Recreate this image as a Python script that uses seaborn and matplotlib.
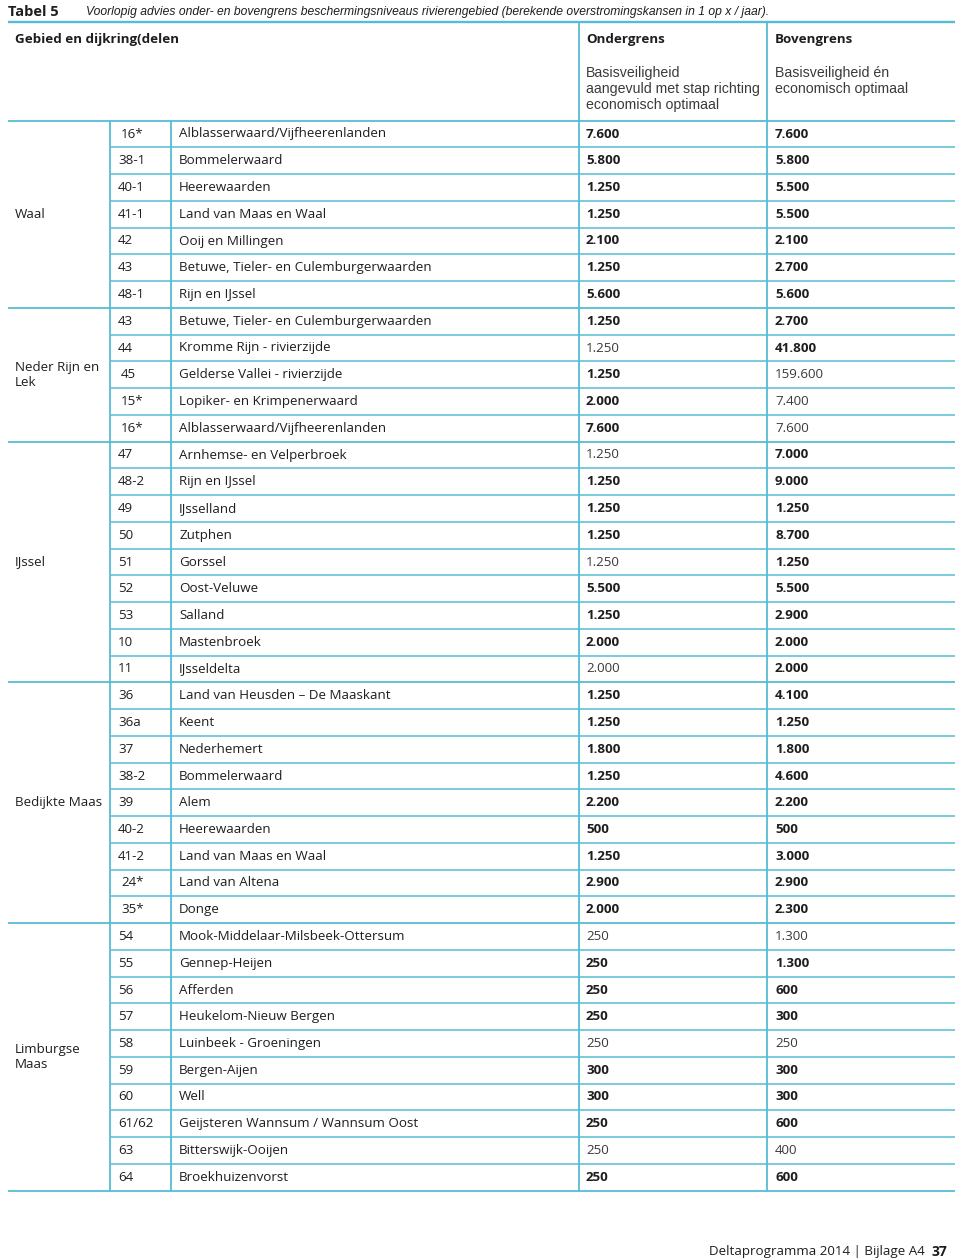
import matplotlib
matplotlib.use("Agg")
import matplotlib.pyplot as plt
import seaborn as sns

# table content
groups = ["Waal", "Neder Rijn en\nLek", "IJssel", "Bedijkte Maas", "Limburgse\nMaas"]
group_sizes = [7, 5, 9, 9, 10]

codes = [
    "16*", "38-1", "40-1", "41-1", "42", "43", "48-1",
    "43", "44", "45", "15*", "16*",
    "47", "48-2", "49", "50", "51", "52", "53", "10", "11",
    "36", "36a", "37", "38-2", "39", "40-2", "41-2", "24*", "35*",
    "54", "55", "56", "57", "58", "59", "60", "61/62", "63", "64",
]
names = [
    "Alblasserwaard/Vijfheerenlanden", "Bommelerwaard", "Heerewaarden",
    "Land van Maas en Waal", "Ooij en Millingen",
    "Betuwe, Tieler- en Culemburgerwaarden", "Rijn en IJssel",
    "Betuwe, Tieler- en Culemburgerwaarden", "Kromme Rijn - rivierzijde",
    "Gelderse Vallei - rivierzijde", "Lopiker- en Krimpenerwaard",
    "Alblasserwaard/Vijfheerenlanden",
    "Arnhemse- en Velperbroek", "Rijn en IJssel", "IJsselland", "Zutphen",
    "Gorssel", "Oost-Veluwe", "Salland", "Mastenbroek", "IJsseldelta",
    "Land van Heusden \u2013 De Maaskant", "Keent", "Nederhemert",
    "Bommelerwaard", "Alem", "Heerewaarden", "Land van Maas en Waal",
    "Land van Altena", "Donge",
    "Mook-Middelaar-Milsbeek-Ottersum", "Gennep-Heijen", "Afferden",
    "Heukelom-Nieuw Bergen", "Luinbeek - Groeningen", "Bergen-Aijen", "Well",
    "Geijsteren Wannsum / Wannsum Oost", "Bitterswijk-Ooijen", "Broekhuizenvorst",
]
ondergrens = [
    "7.600", "5.800", "1.250", "1.250", "2.100", "1.250", "5.600",
    "1.250", "1.250", "1.250", "2.000", "7.600",
    "1.250", "1.250", "1.250", "1.250", "1.250", "5.500", "1.250", "2.000", "2.000",
    "1.250", "1.250", "1.800", "1.250", "2.200", "500", "1.250", "2.900", "2.000",
    "250", "250", "250", "250", "250", "300", "300", "250", "250", "250",
]
bovengrens = [
    "7.600", "5.800", "5.500", "5.500", "2.100", "2.700", "5.600",
    "2.700", "41.800", "159.600", "7.400", "7.600",
    "7.000", "9.000", "1.250", "8.700", "1.250", "5.500", "2.900", "2.000", "2.000",
    "4.100", "1.250", "1.800", "4.600", "2.200", "500", "3.000", "2.900", "2.300",
    "1.300", "1.300", "600", "300", "250", "300", "300", "600", "400", "600",
]
onder_bold = [
    1, 1, 1, 1, 1, 1, 1,
    1, 0, 1, 1, 1,
    0, 1, 1, 1, 0, 1, 1, 1, 0,
    1, 1, 1, 1, 1, 1, 1, 1, 1,
    0, 1, 1, 1, 0, 1, 1, 1, 0, 1,
]
boven_bold = [
    1, 1, 1, 1, 1, 1, 1,
    1, 1, 0, 0, 0,
    1, 1, 1, 1, 1, 1, 1, 1, 1,
    1, 1, 1, 1, 1, 1, 1, 1, 1,
    0, 1, 1, 1, 0, 1, 1, 1, 0, 1,
]

title_label = "Tabel 5"
title_text = ("Voorlopig advies onder- en bovengrens beschermingsniveaus "
              "rivierengebied (berekende overstromingskansen in 1 op x / jaar).")
head_left = "Gebied en dijkring(delen"
head_cols = ["Ondergrens", "Bovengrens"]
sub_cols = ["Basisveiligheid\naangevuld met stap richting\neconomisch optimaal",
            "Basisveiligheid \u00e9n\neconomisch optimaal"]
footer = "Deltaprogramma 2014 | Bijlage A4"
page_no = "37"

sns.set_theme(style="white")
plt.rcParams["font.family"] = ["Open Sans", "DejaVu Sans"]
NARROW = ["Liberation Sans", "DejaVu Sans"]

LINE = "#55bcd5"
INK = "#1e1e1e"
GREY = "#3a3a3a"
FS = 9.6

row0 = 134.0
pitch = 26.75
x_left, x_right = 8, 955
x_grp, x_code, x_name, x_ond = 110, 171, 579, 767
indented = {"45", "15*", "16*", "24*", "35*"}

fig = plt.figure(figsize=(9.6, 12.6), dpi=100)
ax = fig.add_axes([0, 0, 1, 1])
ax.set_xlim(0, 960)
ax.set_ylim(1260, 0)
ax.axis("off")

# title
ax.text(8, 12, title_label, fontsize=10.5, fontweight="bold", color=INK, va="center")
ax.text(86, 12, title_text, fontsize=8.7, style="italic", color=INK, va="center",
        family=NARROW)

# header
top_y = 22
head_bot = row0 - pitch / 2
ax.hlines(top_y, x_left, x_right, color=LINE, lw=1.7)
ax.text(15, 40, head_left, fontsize=FS, fontweight="bold", color=INK, va="center")
for xc, h, s in zip([586, 775], head_cols, sub_cols):
    ax.text(xc, 40, h, fontsize=FS, fontweight="bold", color=INK, va="center")
    ax.text(xc, 66, s, fontsize=10.2, color=GREY, va="top", linespacing=1.2,
            family=NARROW)

# rows
n = len(codes)
bottom = row0 - pitch / 2 + n * pitch
ax.hlines(head_bot, x_left, x_right, color=LINE, lw=1.3)
starts = []
k = 0
for g in group_sizes:
    starts.append(k)
    k += g
group_edges = set(s + g for s, g in zip(starts, group_sizes))

for i in range(n):
    yc = row0 + i * pitch
    yb = yc + pitch / 2
    if (i + 1) in group_edges:
        ax.hlines(yb, x_left, x_right, color=LINE, lw=1.3)
    else:
        ax.hlines(yb, x_grp, x_right, color=LINE, lw=1.1)
    cx = 121 if codes[i] in indented else 118
    ax.text(cx, yc, codes[i], fontsize=FS, color=INK, va="center")
    ax.text(179, yc, names[i], fontsize=FS, color=INK, va="center")
    ax.text(586, yc, ondergrens[i], fontsize=FS, color=INK if onder_bold[i] else GREY,
            fontweight="bold" if onder_bold[i] else "normal", va="center")
    ax.text(775, yc, bovengrens[i], fontsize=FS, color=INK if boven_bold[i] else GREY,
            fontweight="bold" if boven_bold[i] else "normal", va="center")

for s, g, label in zip(starts, group_sizes, groups):
    ym = row0 + (s + (g - 1) / 2) * pitch
    ax.text(15, ym, label, fontsize=FS, color=INK, va="center", linespacing=1.25)

ax.vlines([x_grp, x_code], head_bot, bottom, color=LINE, lw=1.3)
ax.vlines([x_name, x_ond], top_y, bottom, color=LINE, lw=1.3)

# footer
ax.text(925, 1251, footer, fontsize=9.6, color=INK, va="center", ha="right")
ax.text(932, 1252, page_no, fontsize=10, fontweight="bold", color=INK, va="center")

fig.savefig("out.png", dpi=100, facecolor="white")
plt.close(fig)
